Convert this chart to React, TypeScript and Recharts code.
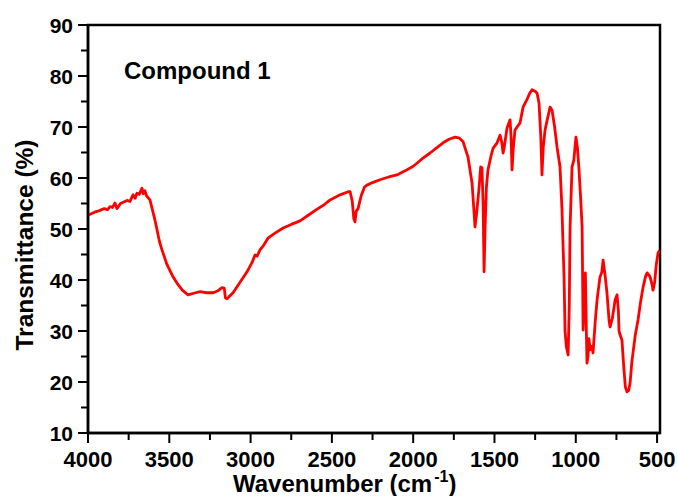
import { LineChart, Line, XAxis, YAxis, ReferenceArea } from "recharts";

// IR spectrum
const wavenumbers = [
  4000, 3960, 3930, 3900, 3880, 3865, 3850, 3834, 3822, 3800, 3780, 3760, 3742, 3723, 3710, 3699,
  3685, 3668, 3660, 3650, 3640, 3619, 3590, 3560, 3545, 3514, 3480, 3453, 3420, 3385, 3350, 3311,
  3270, 3231, 3200, 3176, 3162, 3155, 3145, 3130, 3108, 3070, 3022, 2990, 2973, 2960, 2942, 2920,
  2893, 2850, 2800, 2750, 2696, 2650, 2600, 2550, 2511, 2450, 2400, 2388, 2375, 2365, 2358, 2350,
  2339, 2320, 2300, 2284, 2250, 2200, 2150, 2100, 2050, 2000, 1977, 1940, 1896, 1860, 1816, 1780,
  1742, 1715, 1693, 1663, 1638, 1625, 1620, 1610, 1595, 1585, 1577, 1570, 1564, 1558, 1550, 1540,
  1520, 1509, 1484, 1466, 1455, 1447, 1440, 1423, 1404, 1398, 1392, 1384, 1374, 1343, 1324, 1300,
  1285, 1269, 1250, 1238, 1226, 1215, 1208, 1200, 1189, 1175, 1158, 1146, 1130, 1115, 1097, 1085,
  1078, 1072, 1066, 1058, 1047, 1040, 1035, 1023, 1012, 999, 990, 980, 970, 961, 955, 946,
  941, 935, 931, 925, 919, 912, 900, 894, 880, 869, 851, 840, 832, 820, 808, 795,
  789, 775, 758, 746, 738, 734, 727, 716, 705, 695, 685, 675, 666, 655, 648, 635,
  617, 600, 586, 570, 561, 543, 530, 525, 515, 505, 494, 485,
];

const transmittance = [
  52.7, 53.3, 53.6, 54.0, 53.8, 54.4, 54.2, 55.1, 54.0, 55.0, 55.3, 55.6, 55.4, 56.7, 56.0, 57.0,
  56.8, 58.0, 56.9, 57.5, 56.5, 55.7, 52.0, 47.5, 45.9, 43.0, 40.8, 39.4, 38.0, 37.1, 37.4, 37.7,
  37.5, 37.5, 37.9, 38.5, 38.4, 36.5, 36.3, 36.8, 37.5, 39.3, 41.6, 43.5, 44.9, 44.7, 45.9, 46.8,
  48.2, 49.2, 50.2, 50.9, 51.6, 52.6, 53.7, 54.7, 55.7, 56.7, 57.3, 57.3, 55.5, 52.0, 51.4, 53.5,
  54.0, 56.5, 58.2, 58.6, 59.1, 59.7, 60.2, 60.6, 61.4, 62.3, 62.9, 63.9, 64.9, 65.8, 66.9, 67.6,
  68.0, 67.8, 67.1, 64.1, 59.0, 53.0, 50.4, 53.0, 58.0, 62.2, 62.0, 55.0, 41.6, 50.0, 58.0, 61.6,
  64.5, 65.8, 66.9, 68.4, 67.0, 64.9, 66.0, 69.8, 71.4, 68.0, 61.6, 66.0, 69.4, 70.8, 73.9, 75.4,
  76.5, 77.3, 77.0, 76.6, 74.7, 68.0, 60.6, 66.0, 69.4, 71.5, 73.9, 73.3, 70.0, 66.0, 62.2, 54.0,
  46.5, 40.6, 30.0, 26.9, 25.3, 35.0, 50.4, 62.2, 63.5, 68.0, 66.0, 61.6, 56.0, 50.4, 30.2, 38.0,
  41.4, 30.0, 23.7, 25.0, 28.5, 26.3, 27.0, 25.7, 32.0, 36.1, 40.6, 41.5, 43.9, 41.0, 37.4, 32.0,
  30.8, 32.5, 36.1, 37.1, 34.0, 30.0, 29.2, 28.2, 23.0, 19.0, 18.1, 18.3, 19.8, 24.0, 25.7, 29.0,
  32.2, 36.0, 38.6, 40.8, 41.4, 40.6, 39.0, 38.0, 39.5, 43.0, 45.3, 45.8,
];

const xTicks = [4000, 3750, 3500, 3250, 3000, 2750, 2500, 2250, 2000, 1750, 1500, 1250, 1000, 750, 500];
const yTicks = [10, 15, 20, 25, 30, 35, 40, 45, 50, 55, 60, 65, 70, 75, 80, 85, 90];

const data = wavenumbers.map((w, i) => ({ w, t: transmittance[i] }));

const FONT = "'Liberation Sans', Arial, sans-serif";

const XTick = ({ x, y, payload }: any) => {
  const major = payload.value % 500 === 0;
  return (
    <g>
      <line x1={x} x2={x} y1={y} y2={y + (major ? 10 : 7)} stroke="#000" strokeWidth={2} />
      {major && (
        <text x={x} y={y + 34} textAnchor="middle" fontSize={22} fontWeight="bold" fontFamily={FONT} fill="#000">
          {payload.value}
        </text>
      )}
    </g>
  );
};

const YTick = ({ x, y, payload }: any) => {
  const major = payload.value % 10 === 0;
  return (
    <g>
      <line x1={x - (major ? 10 : 7)} x2={x} y1={y} y2={y} stroke="#000" strokeWidth={2} />
      {major && (
        <text x={x - 15} y={y} dy="0.36em" textAnchor="end" fontSize={21} fontWeight="bold" fontFamily={FONT} fill="#000">
          {payload.value}
        </text>
      )}
    </g>
  );
};

export default function App() {
  return (
    <div style={{ position: "absolute", left: 0, top: 0, width: 678, height: 496, background: "#fff" }}>
      <LineChart width={678} height={496} data={data} margin={{ top: 25, right: 18, left: 38, bottom: 33 }}>
        <XAxis
          dataKey="w"
          type="number"
          domain={[482, 4000]}
          reversed
          ticks={xTicks}
          interval={0}
          tick={<XTick />}
          tickLine={false}
          tickSize={0}
          tickMargin={0}
          axisLine={{ stroke: "#000", strokeWidth: 2.5 }}
          height={30}
        />
        <YAxis
          type="number"
          domain={[10, 90]}
          ticks={yTicks}
          interval={0}
          tick={<YTick />}
          tickLine={false}
          tickSize={0}
          tickMargin={0}
          axisLine={{ stroke: "#000", strokeWidth: 2.5 }}
          width={50}
        />
        <ReferenceArea x1={482} x2={4000} y1={10} y2={90} fill="none" stroke="#000" strokeWidth={2.5} />
        <Line
          type="linear"
          dataKey="t"
          stroke="#ff0000"
          strokeWidth={2.8}
          strokeLinejoin="round"
          dot={false}
          isAnimationActive={false}
        />
      </LineChart>
      <svg width={678} height={496} style={{ position: "absolute", left: 0, top: 0, pointerEvents: "none" }}>
        <text x={124} y={79} fontSize={24} fontWeight="bold" fontFamily={FONT} fill="#000">
          Compound 1
        </text>
        <text
          transform="translate(33,245) rotate(-90)"
          textAnchor="middle"
          fontSize={24.5}
          fontWeight="bold"
          fontFamily={FONT}
          fill="#000"
        >
          Transmittance (%)
        </text>
        <text x={233} y={492} fontSize={24} fontWeight="bold" fontFamily={FONT} fill="#000">
          Wavenumber (cm
          <tspan dx={2} fontSize={16} dy={-10}>-1</tspan>
          <tspan dy={10}>)</tspan>
        </text>
      </svg>
    </div>
  );
}
